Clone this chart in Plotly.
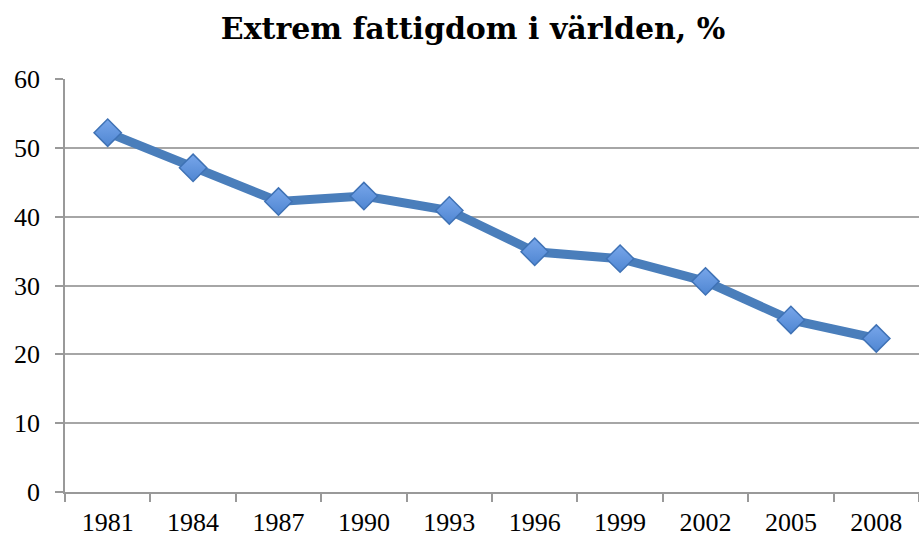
import plotly.graph_objects as go

years = ["1981", "1984", "1987", "1990", "1993", "1996", "1999", "2002", "2005", "2008"]
poverty = [52.2, 47.1, 42.2, 43.0, 40.9, 34.9, 33.9, 30.6, 25.0, 22.3]

fig = go.Figure()
fig.add_trace(go.Scatter(
    x=years, y=poverty, mode="lines+markers",
    line=dict(color="#4a7ebb", width=9),
    marker=dict(symbol="diamond", size=21, color="#78a6ea",
                gradient=dict(type="vertical", color="#4f86d2"),
                line=dict(color="#3f72b5", width=1.5)),
    showlegend=False,
))

fig.update_layout(
    width=919, height=539,
    margin=dict(l=65, r=0, t=79, b=47),
    paper_bgcolor="white", plot_bgcolor="white",
    font=dict(family="Liberation Serif, DejaVu Serif, serif", color="black", size=26),
    title=dict(text="<b>Extrem fattigdom i världen, %</b>", x=0.5147, xanchor="center",
               y=0.947, yanchor="middle",
               font=dict(size=30, family="DejaVu Serif, Liberation Serif, serif")),
)
fig.update_xaxes(
    type="category", range=[-0.5, 9.5],
    showline=True, linecolor="#999999", linewidth=1.5,
    ticks="outside", tickson="boundaries", ticklen=8, tickcolor="#999999", tickwidth=1.5,
    showgrid=False, tickfont=dict(size=26), ticklabelstandoff=6,
)
fig.update_yaxes(
    range=[0, 60], dtick=10,
    showline=True, linecolor="#999999", linewidth=1.5,
    ticks="outside", ticklen=8, tickcolor="#999999", tickwidth=1.5,
    showgrid=True, gridcolor="#a6a6a6", gridwidth=1.5,
    zeroline=False, tickfont=dict(size=26), ticklabelstandoff=10,
)

fig.write_html("out.html", config={"displayModeBar": False},
               post_script="document.body.style.margin='0';document.body.style.padding='0';")
